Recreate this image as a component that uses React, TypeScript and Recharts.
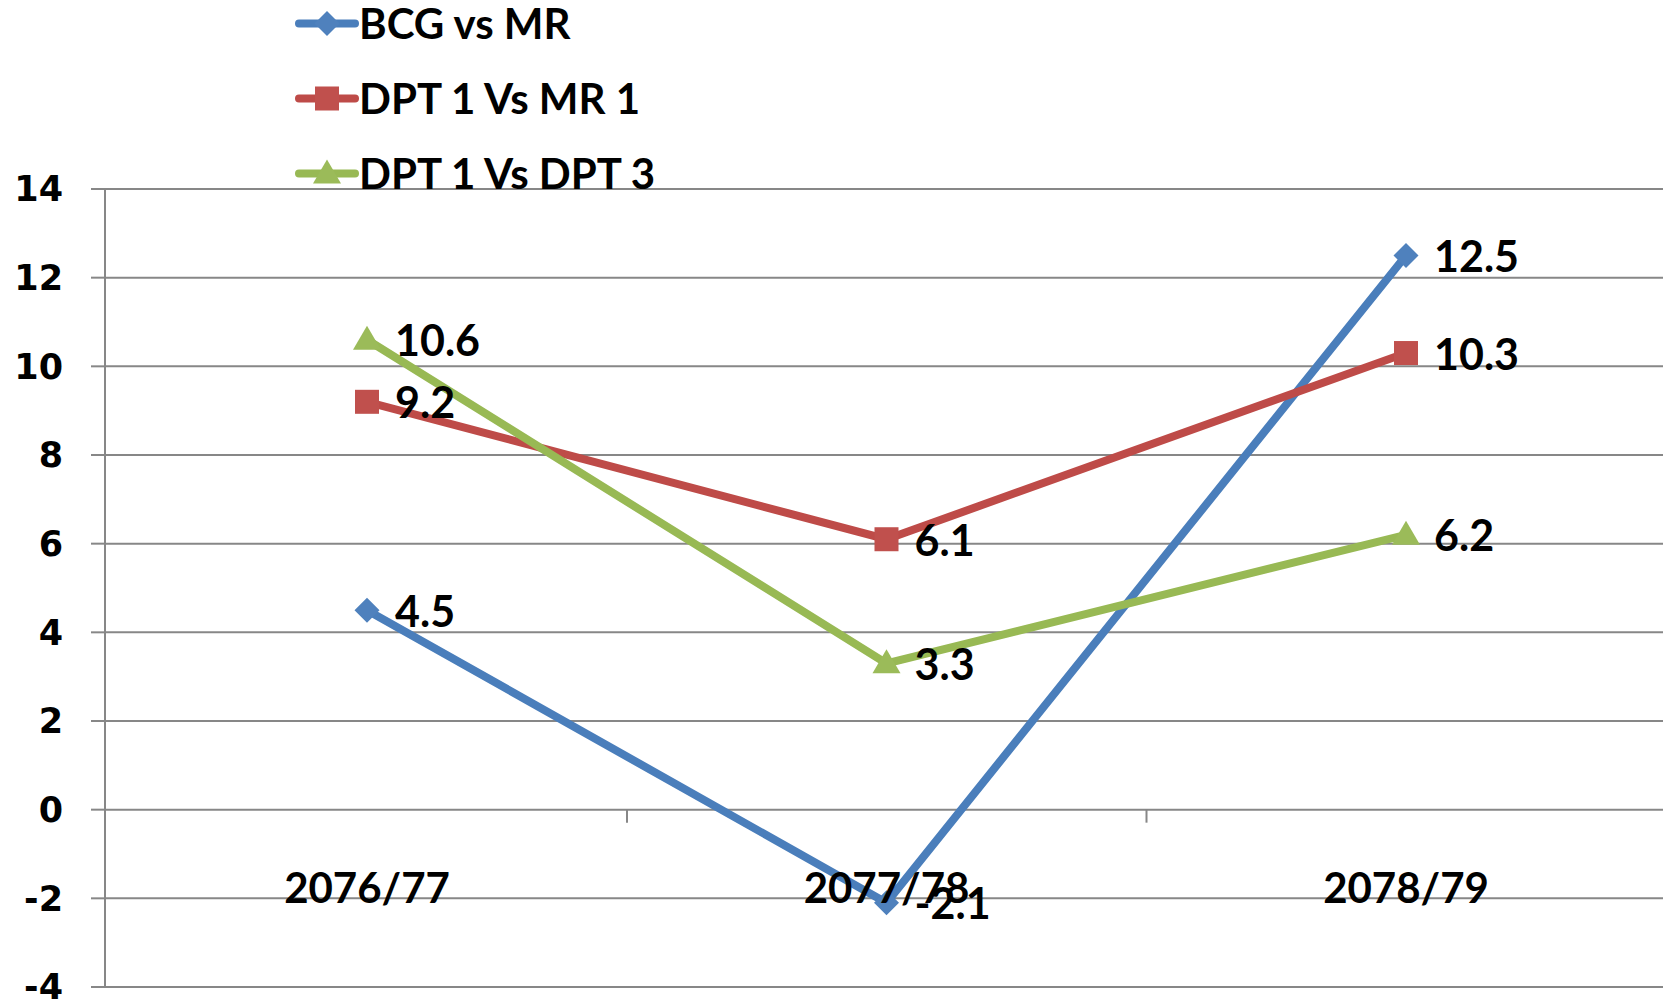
import React from 'react';
import { LineChart, Line, XAxis, YAxis, CartesianGrid, Legend } from 'recharts';

const categories = ['2076/77', '2077/78', '2078/79'];
const bcgVsMr = [4.5, -2.1, 12.5];
const dpt1VsMr1 = [9.2, 6.1, 10.3];
const dpt1VsDpt3 = [10.6, 3.3, 6.2];
const yTicks = [-4, -2, 0, 2, 4, 6, 8, 10, 12, 14];

const series = [
  { key: 'bcg', name: 'BCG vs MR', color: '#4A7EBB', marker: '#4F81BD', shape: 'diamond' },
  { key: 'mr1', name: 'DPT 1 Vs MR 1', color: '#BE4B48', marker: '#C0504D', shape: 'square' },
  { key: 'dpt3', name: 'DPT 1 Vs DPT 3', color: '#98B954', marker: '#9BBB59', shape: 'triangle' },
];

const data = categories.map((cat, i) => ({
  cat,
  bcg: bcgVsMr[i],
  mr1: dpt1VsMr1[i],
  dpt3: dpt1VsDpt3[i],
}));

// layout
const W = 1663;
const H = 1002;
const PLOT_TOP = 189;
const X_AXIS_H = 15;
const PLOT_H = H - PLOT_TOP - X_AXIS_H;
const Y_MIN = -4;
const Y_MAX = 14;
const ZERO_Y = PLOT_TOP + ((Y_MAX - 0) / (Y_MAX - Y_MIN)) * PLOT_H;
const HALF_BAND = 260;
const GRID = '#878787';
const LABEL_FONT = 'Lato, "Open Sans", sans-serif';

function Marker({ cx, cy, shape, fill }: { cx: number; cy: number; shape: string; fill: string }) {
  if (shape === 'diamond') {
    const r = 12.5;
    return <polygon points={`${cx},${cy - r} ${cx + r},${cy} ${cx},${cy + r} ${cx - r},${cy}`} fill={fill} />;
  }
  if (shape === 'square') {
    return <rect x={cx - 12} y={cy - 12} width={24} height={24} fill={fill} />;
  }
  return <polygon points={`${cx},${cy - 14} ${cx + 14},${cy + 10} ${cx - 14},${cy + 10}`} fill={fill} />;
}

const renderValueLabel = (props: any) => {
  const { x, y, value, index } = props;
  return (
    <text
      key={`lbl-${index}`}
      x={x + 28}
      y={y}
      dominantBaseline="central"
      fontFamily={LABEL_FONT}
      fontWeight={700}
      fontSize={43}
      fill="#000"
    >
      {value}
    </text>
  );
};

const CategoryTick = (props: any) => {
  const { x, payload } = props;
  return (
    <g>
      <line x1={x + HALF_BAND} x2={x + HALF_BAND} y1={ZERO_Y} y2={ZERO_Y + 13} stroke={GRID} strokeWidth={2} />
      <text
        x={x}
        y={ZERO_Y + 77}
        textAnchor="middle"
        dominantBaseline="central"
        fontFamily={LABEL_FONT}
        fontWeight={700}
        fontSize={42}
        fill="#000"
      >
        {payload.value}
      </text>
    </g>
  );
};

const LegendContent = () => (
  <div>
    {series.map((s) => (
      <div key={s.key} style={{ display: 'flex', alignItems: 'center', height: 75 }}>
        <svg width={64} height={75}>
          <line x1={4} x2={60} y1={37.5} y2={37.5} stroke={s.color} strokeWidth={8} strokeLinecap="round" />
          <Marker cx={32} cy={37.5} shape={s.shape} fill={s.marker} />
        </svg>
        <span style={{ fontFamily: LABEL_FONT, fontWeight: 700, fontSize: 42, color: '#000', lineHeight: '75px' }}>
          {s.name}
        </span>
      </div>
    ))}
  </div>
);

export default function App() {
  return (
    <div style={{ position: 'absolute', left: 0, top: 0, width: W, height: H, background: '#fff', overflow: 'hidden' }}>
      <LineChart width={W} height={H} data={data} margin={{ top: PLOT_TOP, right: 0, left: 0, bottom: 0 }}>
        <CartesianGrid horizontal vertical={false} stroke={GRID} strokeWidth={2} />
        <XAxis
          dataKey="cat"
          height={X_AXIS_H}
          axisLine={false}
          tickLine={false}
          padding={{ left: 262, right: 257 }}
          tick={CategoryTick}
          interval={0}
        />
        <YAxis
          width={105}
          domain={[Y_MIN, Y_MAX]}
          ticks={yTicks}
          interval={0}
          axisLine={{ stroke: GRID, strokeWidth: 2 }}
          tickLine={{ stroke: GRID, strokeWidth: 2 }}
          tickSize={14}
          tickMargin={28}
          tick={{ fontFamily: '"DejaVu Sans", sans-serif', fontWeight: 700, fontSize: 35, fill: '#000' }}
        />
        <Legend
          layout="vertical"
          align="center"
          verticalAlign="middle"
          content={LegendContent}
          wrapperStyle={{ position: 'absolute', top: -14, left: 295, width: 'auto', height: 'auto' }}
        />
        {series.map((s) => (
          <Line
            key={s.key}
            dataKey={s.key}
            name={s.name}
            type="linear"
            stroke={s.color}
            strokeWidth={8}
            isAnimationActive={false}
            dot={(p: any) => <Marker key={`${s.key}-${p.index}`} cx={p.cx} cy={p.cy} shape={s.shape} fill={s.marker} />}
            activeDot={false}
            label={renderValueLabel}
          />
        ))}
      </LineChart>
    </div>
  );
}
